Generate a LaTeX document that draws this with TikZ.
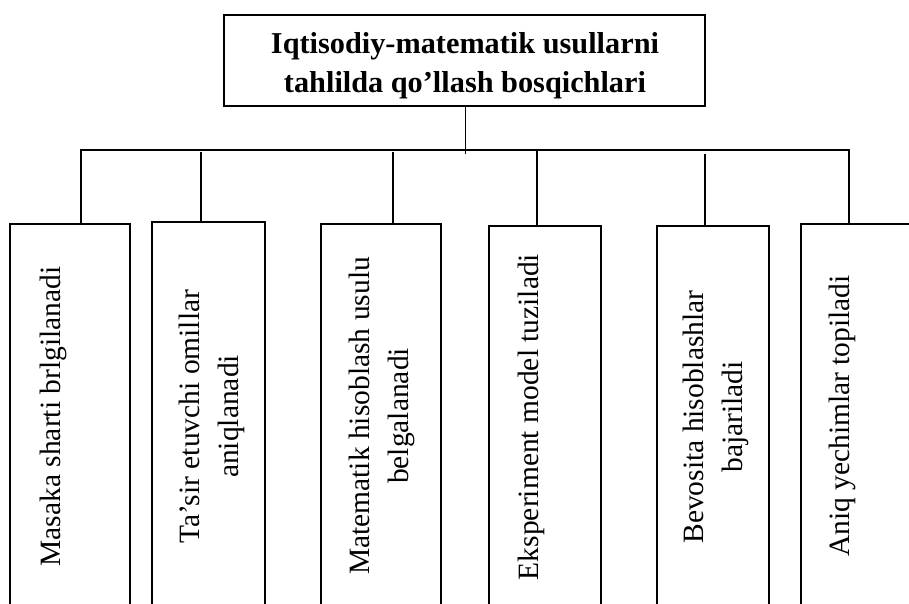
\documentclass[tikz,border=0pt]{standalone}
\usepackage{fontspec}
\setmainfont{Liberation Serif}
\begin{document}
\begin{tikzpicture}[x=1pt,y=-1pt, line width=1.3pt, line join=miter,
  stepbox/.style={draw, rectangle, inner sep=0pt, outer sep=0pt, anchor=north west},
  vtext/.style={rotate=90, align=center, inner sep=0pt, font=\fontsize{29.5}{39}\selectfont},
  titletext/.style={align=center, inner sep=0pt, font=\bfseries\fontsize{30.3}{39}\selectfont}]
\useasboundingbox (0,0) rectangle (909,603);
\clip (0,0) rectangle (909,603);

% top box
\node[stepbox, minimum width=481pt, minimum height=91pt] (top) at (224,15) {};
\node[titletext] (title) at (465,66) {Iqtisodiy-matematik usullarni\\tahlilda qo’llash bosqichlari};

% step boxes (open below, running off the page)
\node[stepbox, minimum width=120pt, minimum height=420pt] (b1) at (10,224) {};
\node[stepbox, minimum width=113pt, minimum height=420pt] (b2) at (152,222) {};
\node[stepbox, minimum width=120pt, minimum height=420pt] (b3) at (321,224) {};
\node[stepbox, minimum width=112pt, minimum height=420pt] (b4) at (489,226) {};
\node[stepbox, minimum width=112pt, minimum height=420pt] (b5) at (657,226) {};
\node[stepbox, minimum width=140pt, minimum height=420pt] (b6) at (801,224) {};

% vertical texts
\node[vtext] (t1) at (53,416.5) {Masaka sharti brlgilanadi};
\node[vtext] (t2) at (212,416.5) {Ta’sir etuvchi omillar\\aniqlanadi};
\node[vtext] (t3) at (381.5,416) {Matematik hisoblash usulu\\belgalanadi};
\node[vtext] (t4) at (531,417) {Eksperiment model tuziladi};
\node[vtext] (t5) at (716,417) {Bevosita hisoblashlar\\bajariladi};
\node[vtext] (t6) at (842,416) {Aniq yechimlar topiladi};

% connectors
\coordinate (hub) at (465.5,154);
\draw (hub |- top.south) -- (hub);
\coordinate (busL) at (81,150);
\coordinate (busR) at (849,150);
\draw (busL |- b1.north) -- (busL) -- (busR) -- (busR |- b6.north);
\coordinate (d2) at (201,152);
\coordinate (d3) at (393,152);
\coordinate (d4) at (537,150);
\coordinate (d5) at (705,154);
\draw (d2) -- (d2 |- b2.north);
\draw (d3) -- (d3 |- b3.north);
\draw (d4) -- (d4 |- b4.north);
\draw (d5) -- (d5 |- b5.north);
\end{tikzpicture}
\end{document}
